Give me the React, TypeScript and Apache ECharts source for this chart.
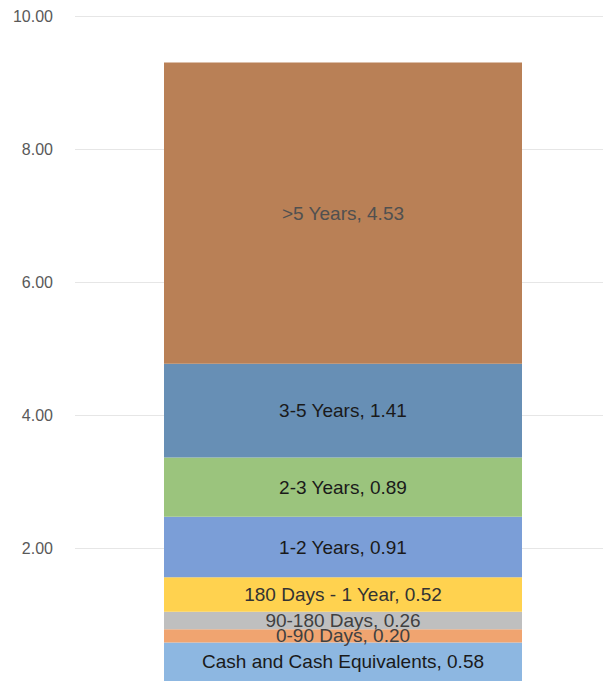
import React, { useEffect, useRef } from "react";
import * as echarts from "echarts";

const categories = ["Maturity"];
const seriesNames = [
  "Cash and Cash Equivalents",
  "0-90 Days",
  "90-180 Days",
  "180 Days - 1 Year",
  "1-2 Years",
  "2-3 Years",
  "3-5 Years",
  ">5 Years",
];
const seriesValues = [0.58, 0.2, 0.26, 0.52, 0.91, 0.89, 1.41, 4.53];
const seriesColors = [
  "#8DB7E1",
  "#F0A470",
  "#BFBFBF",
  "#FFD24F",
  "#7B9ED7",
  "#9BC47D",
  "#678FB5",
  "#B98056",
];
const labelColors = [
  "#1a1a1a",
  "#404040",
  "#404040",
  "#333333",
  "#1a1a1a",
  "#1a1a1a",
  "#1a1a1a",
  "#505050",
];
const yTicks = [0, 2, 4, 6, 8, 10];
const FONT = "'Liberation Sans', Arial, sans-serif";

export default function App() {
  const ref = useRef<HTMLDivElement>(null);
  useEffect(() => {
    document.body.style.margin = "0";
    if (!ref.current) return;
    const chart = echarts.init(ref.current, undefined, { renderer: "svg" });
    const yMin = yTicks[0];
    const yMax = yTicks[yTicks.length - 1];
    chart.setOption({
      animation: false,
      grid: [
        { left: 75, right: 0, top: 16, bottom: 0, containLabel: false },
        { left: 83, right: 0, top: 16, bottom: 0, containLabel: false },
      ],
      xAxis: [
        {
          type: "category",
          gridIndex: 0,
          data: categories,
          show: false,
        },
        {
          type: "category",
          gridIndex: 1,
          data: categories,
          show: false,
        },
      ],
      yAxis: [
        {
          type: "value",
          gridIndex: 0,
          min: yMin,
          max: yMax,
          interval: 2,
          axisLine: { show: false },
          axisTick: { show: false },
          splitLine: { lineStyle: { color: "#e6e6e6", width: 1 } },
          axisLabel: {
            showMinLabel: false,
            margin: 22,
            color: "#595959",
            fontSize: 16,
            fontFamily: FONT,
            formatter: (v: number) => v.toFixed(2),
          },
        },
        {
          type: "value",
          gridIndex: 1,
          min: yMin,
          max: yMax,
          interval: 2,
          show: false,
          splitLine: { show: false },
        },
      ],
      series: seriesNames.map((name, i) => ({
        name,
        type: "bar",
        stack: "total",
        xAxisIndex: 1,
        yAxisIndex: 1,
        barWidth: 358,
        data: [seriesValues[i]],
        itemStyle: { color: seriesColors[i] },
        label: {
          show: true,
          position: "inside",
          color: labelColors[i],
          fontSize: 19,
          fontFamily: FONT,
          formatter: (p: any) => `${p.seriesName}, ${Number(p.value).toFixed(2)}`,
        },
      })),
    });
    return () => chart.dispose();
  }, []);
  return <div ref={ref} style={{ width: 603, height: 681 }} />;
}
